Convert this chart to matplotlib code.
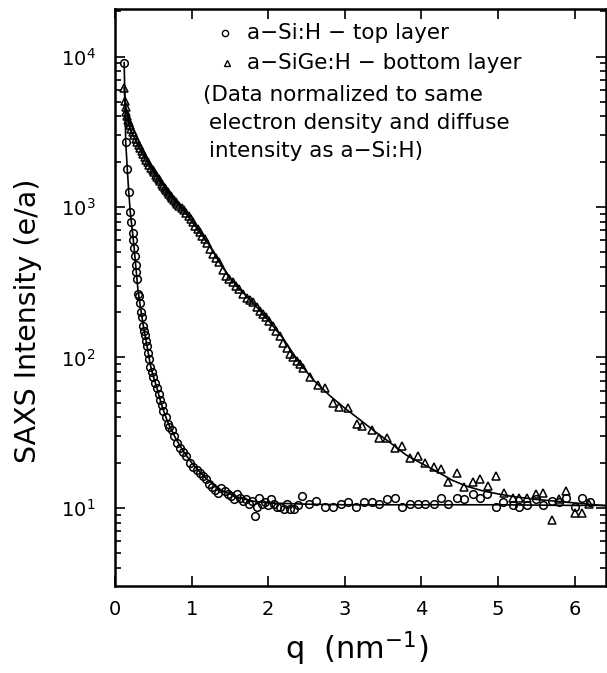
import matplotlib
matplotlib.use("Agg")
import matplotlib.pyplot as plt
import numpy as np

# ---- data: a-Si:H (top layer), circles ----
q_si = [0.12, 0.14, 0.16, 0.18, 0.20, 0.21, 0.23, 0.24, 0.25, 0.26, 0.27, 0.28, 0.29, 0.30,
        0.31, 0.33, 0.34, 0.35, 0.37, 0.38, 0.39, 0.41, 0.42, 0.43, 0.45, 0.46, 0.48, 0.50,
        0.52, 0.55, 0.57, 0.59, 0.61, 0.63, 0.66, 0.69, 0.71, 0.74, 0.77, 0.81, 0.85, 0.89,
        0.93, 0.98, 1.02, 1.07, 1.11, 1.15, 1.19, 1.23, 1.27, 1.31, 1.35, 1.39, 1.43, 1.47,
        1.51, 1.55, 1.59, 1.63, 1.67, 1.71, 1.75, 1.79, 1.83, 1.86, 1.88, 1.92, 1.96, 2.00,
        2.04, 2.08, 2.12, 2.16, 2.21, 2.25, 2.29, 2.34, 2.39, 2.44, 2.53, 2.63, 2.74, 2.84,
        2.95, 3.04, 3.14, 3.25, 3.35, 3.44, 3.55, 3.65, 3.75, 3.85, 3.95, 4.05, 4.16, 4.26,
        4.35, 4.46, 4.56, 4.67, 4.77, 4.86, 4.98, 5.07, 5.19, 5.28, 5.38, 5.49, 5.59, 5.70,
        5.80, 5.89, 6.00, 6.10, 6.20]
I_si = [9100, 2700, 1800, 1250, 920, 800, 670, 600, 535, 470, 410, 370, 330, 265,
        255, 230, 200, 185, 162, 150, 141, 128, 120, 107, 97, 87, 80, 74,
        68, 63, 57, 52, 48, 44, 40, 36, 34.5, 33, 30, 27, 25, 23.5,
        22, 20, 18.8, 17.8, 17.0, 16.2, 15.5, 14.5, 13.8, 13.2, 12.6, 13.5, 12.9, 12.3,
        12.0, 11.5, 12.3, 11.7, 11.2, 11.5, 10.7, 11.2, 8.9, 10.2, 11.7, 10.7, 11.0, 10.5,
        11.5, 10.7, 10.2, 10.2, 9.8, 10.7, 9.8, 9.8, 10.5, 12.0, 10.7, 11.2, 10.2, 10.2,
        10.7, 11.0, 10.2, 11.0, 11.0, 10.7, 11.5, 11.7, 10.2, 10.7, 10.7, 10.7, 10.7, 11.7,
        10.7, 11.7, 11.5, 12.3, 11.7, 12.3, 10.2, 11.0, 10.5, 10.2, 10.5, 11.5, 10.5, 11.2,
        11.0, 11.7, 10.2, 11.7, 11.0]

# ---- data: a-SiGe:H (bottom layer), triangles ----
q_sige = [0.12, 0.13, 0.14, 0.15, 0.16, 0.17, 0.18, 0.19, 0.21, 0.23, 0.25, 0.27, 0.29, 0.31,
          0.33, 0.35, 0.37, 0.39, 0.41, 0.43, 0.45, 0.47, 0.49, 0.51, 0.53, 0.55, 0.57, 0.59,
          0.61, 0.63, 0.65, 0.67, 0.69, 0.71, 0.73, 0.75, 0.77, 0.79, 0.81, 0.84, 0.87, 0.90,
          0.93, 0.96, 0.99, 1.02, 1.05, 1.08, 1.11, 1.14, 1.17, 1.20, 1.24, 1.28, 1.32, 1.36,
          1.41, 1.45, 1.49, 1.54, 1.58, 1.62, 1.67, 1.72, 1.76, 1.80, 1.85, 1.89, 1.93, 1.97,
          2.01, 2.06, 2.10, 2.15, 2.19, 2.24, 2.28, 2.33, 2.37, 2.41, 2.45, 2.54, 2.65, 2.74,
          2.84, 2.93, 3.04, 3.16, 3.23, 3.35, 3.44, 3.55, 3.65, 3.75, 3.85, 3.95, 4.05, 4.16,
          4.26, 4.35, 4.46, 4.56, 4.67, 4.77, 4.87, 4.97, 5.08, 5.19, 5.28, 5.38, 5.49, 5.59,
          5.70, 5.80, 5.89, 6.00, 6.10, 6.19]
I_sige = [6200, 5100, 4600, 4300, 4000, 3800, 3650, 3500, 3300, 3150, 3000, 2850, 2700, 2580,
          2450, 2350, 2250, 2150, 2060, 1980, 1900, 1830, 1760, 1700, 1640, 1580, 1530, 1480,
          1430, 1380, 1340, 1300, 1260, 1220, 1180, 1150, 1110, 1080, 1050, 1010, 980, 950,
          910, 870, 830, 790, 750, 710, 680, 640, 610, 580, 525, 490, 460, 430,
          380, 350, 330, 316, 300, 285, 263, 250, 240, 234, 215, 205, 195, 185,
          175, 162, 150, 138, 125, 115, 105, 100, 95, 91, 85, 74, 66, 63,
          50, 47, 46, 36, 35, 33, 29, 29, 25, 26, 21.4, 22, 20, 18.6,
          18.2, 14.8, 17.0, 13.8, 14.8, 15.5, 14.1, 16.2, 12.6, 11.7, 11.7, 11.7, 12.3, 12.6,
          8.3, 11.5, 12.9, 9.3, 9.3, 10.7]

# ---- fitted curves ----
q_fit_si = [0.12, 0.14, 0.16, 0.18, 0.20, 0.23, 0.25, 0.27, 0.30, 0.33, 0.37, 0.42, 0.46,
            0.50, 0.55, 0.60, 0.65, 0.70, 0.80, 0.90, 1.00, 1.10, 1.20, 1.40, 1.60, 1.80,
            2.00, 2.50, 3.00, 4.00, 5.00, 6.00, 6.45]
I_fit_si = [9100, 2700, 1800, 1250, 920, 670, 535, 410, 280, 220, 162, 118, 90,
            75, 62, 50, 42, 36, 28.5, 23.5, 20, 17.5, 15.5, 13.0, 11.8, 11.1,
            10.8, 10.6, 10.5, 10.5, 10.5, 10.4, 10.4]
q_fit_sige = [0.12, 0.13, 0.15, 0.20, 0.30, 0.40, 0.50, 0.60, 0.70, 0.80, 0.90, 1.00, 1.20,
              1.40, 1.60, 1.80, 2.00, 2.20, 2.40, 2.60, 2.80, 3.00, 3.20, 3.40, 3.60, 3.80,
              4.00, 4.20, 4.40, 4.60, 4.80, 5.00, 5.20, 5.50, 6.00, 6.45]
I_fit_sige = [6200, 5100, 4300, 3250, 2600, 2100, 1720, 1450, 1240, 1080, 950, 810, 590,
              400, 293, 232, 177, 133, 93, 70, 56, 46, 38.5, 32, 27, 22.5,
              19.8, 17.5, 15.3, 13.9, 13.0, 12.4, 11.9, 11.4, 10.8, 10.3]

x_ticks = [0, 1, 2, 3, 4, 5, 6]
legend_labels = ["a\u2212Si:H \u2212 top layer", "a\u2212SiGe:H \u2212 bottom layer"]
note_lines = ["(Data normalized to same", "electron density and diffuse", "intensity as a\u2212Si:H)"]

plt.rcParams['font.family'] = ['DejaVu Sans']
W, H = 607, 673
fig = plt.figure(figsize=(W / 100, H / 100), dpi=100)
L, R, T, B = 115, 606, 9, 586
ax = fig.add_axes([L / W, 1 - B / H, (R - L) / W, (B - T) / H])

ax.plot(q_fit_si, I_fit_si, color='black', lw=1.2, zorder=2)
ax.plot(q_fit_sige, I_fit_sige, color='black', lw=1.2, zorder=2)
ax.plot(q_si, I_si, linestyle='none', marker='o', ms=5.5, mfc='none', mec='black', mew=1.1, zorder=3)
ax.plot(q_sige, I_sige, linestyle='none', marker='^', ms=6, mfc='none', mec='black', mew=1.1, zorder=3)

ax.set_yscale('log')
ax.set_xlim(0, 6.41)
ax.set_ylim(3.03, 20700)
ax.set_xticks(x_ticks)
ax.set_xticklabels([str(t) for t in x_ticks])

for s in ax.spines.values():
    s.set_linewidth(1.8)
ax.tick_params(which='both', direction='in', top=True, right=True, labelsize=14, width=1.2)
ax.tick_params(which='major', length=7, pad=10)
ax.tick_params(axis='y', which='major', pad=14)
ax.tick_params(which='minor', length=4)
ax.tick_params(axis='x', which='minor', bottom=False, top=False)

ax.set_ylabel('SAXS Intensity (e/a)', fontsize=20.5)
ax.yaxis.set_label_coords((42 - L) / (R - L), (B - 321) / (B - T))
ax.set_xlabel('q  (nm$^{-1}$)', fontsize=22)
ax.xaxis.set_label_coords((357 - L) / (R - L), (B - 630) / (B - T))


def ax_xy(px, py):
    return (px - L) / (R - L), (B - py) / (B - T)


# legend (manual, positioned in axes coordinates)
tr = ax.transAxes
fs = 15.5
ax.plot(*[[v] for v in ax_xy(225, 33)], transform=tr, marker='o', ms=4.5, mfc='none',
        mec='black', mew=1.0, clip_on=False)
ax.plot(*[[v] for v in ax_xy(227, 63)], transform=tr, marker='^', ms=5, mfc='none',
        mec='black', mew=1.0, clip_on=False)
ax.text(*ax_xy(247, 33), legend_labels[0], transform=tr, fontsize=fs, va='center', ha='left')
ax.text(*ax_xy(247, 63), legend_labels[1], transform=tr, fontsize=fs, va='center', ha='left')
note_x = [203, 209, 209]
note_y = [95, 123, 151]
for line, nx, ny in zip(note_lines, note_x, note_y):
    ax.text(*ax_xy(nx, ny), line, transform=tr, fontsize=fs, va='center', ha='left')

fig.savefig('out.png', dpi=100)
